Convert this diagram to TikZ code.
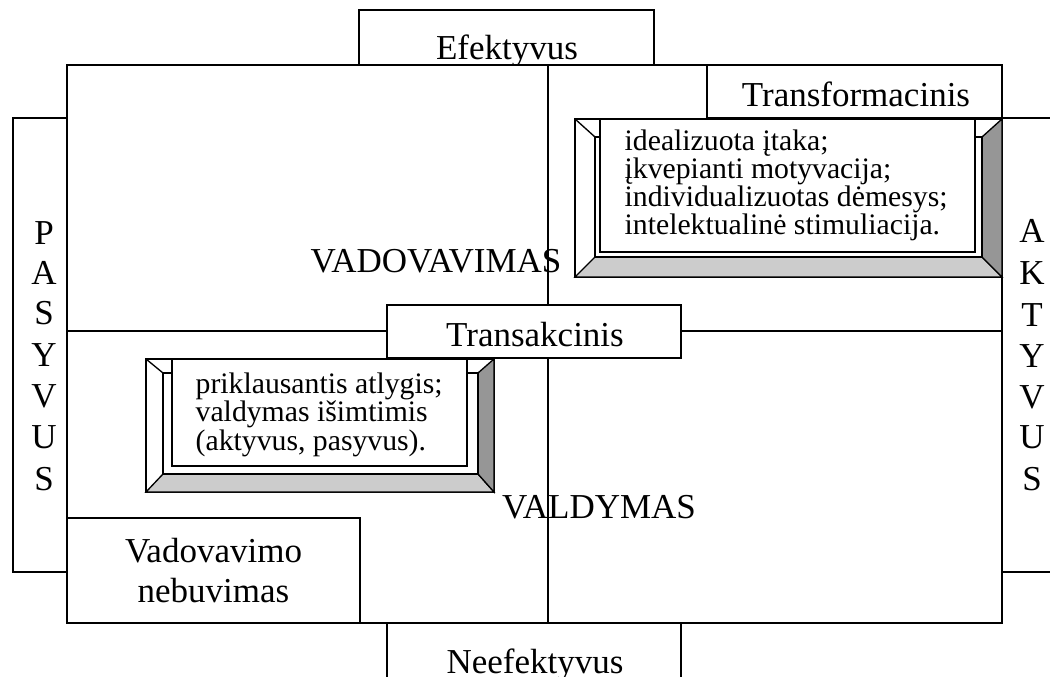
\documentclass[tikz,border=0pt]{standalone}
\usepackage{fontspec}
\setmainfont{Liberation Serif}
\tikzset{every picture/.style={line width=1pt}}
\tikzset{
  lbl/.style={inner sep=0pt, font=\fontsize{26.25}{30}\selectfont},
  boxtxt/.style={inner sep=0pt, anchor=north west, align=left, font=\fontsize{22.3}{19.5}\selectfont},
  whitebox/.style={draw, fill=white},
}
\definecolor{faceLight}{RGB}{204,204,204}
\definecolor{faceDark}{RGB}{150,150,150}
% bevelled box: outer x1,y1,x2,y2 / inner ix1,iy1,ix2,iy2
\newcommand{\bevelbox}[8]{%
  \draw [whitebox] (#1,#2) rectangle (#3,#4);
  \draw [fill=faceLight] (#1,#4) -- (#5,#8) -- (#7,#8) -- (#3,#4) -- cycle;
  \draw [fill=faceDark] (#3,#2) -- (#7,#6) -- (#7,#8) -- (#3,#4) -- cycle;
  \draw (#1,#2) -- (#5,#6);
  \draw (#5,#6) rectangle (#7,#8);
}

\begin{document}
\begin{tikzpicture}[x=0.75pt,y=0.75pt,yscale=-1,xscale=1]
	\useasboundingbox (0,0) rectangle (1050,677);
	\clip (0,0) rectangle (1050,677);
	%Efektyvus
	\draw [whitebox] (359,10) rectangle (654,65);
	\node (efT) [lbl, anchor=base] at (507,60) {Efektyvus};
	%Neefektyvus
	\draw [whitebox] (387,623) rectangle (681,700);
	\node (neefT) [lbl, anchor=base] at (535,673) {Neefektyvus};
	%Pasyvus
	\draw [whitebox] (13,118) rectangle (67,572);
	\foreach \l/\y in {P/245,A/285,S/325,Y/367,V/407,U/448,S/490}
		\node (pas\y) [lbl, anchor=base] at (44,\y) {\l};
	%Aktyvus
	\draw [whitebox] (1002,118) rectangle (1070,572);
	\foreach \l/\y in {A/243,K/285,T/327,Y/368,V/408,U/448,S/490}
		\node (akt\y) [lbl, anchor=base] at (1032,\y) {\l};
	%Main square
	\draw [whitebox] (67,65) rectangle (1002,623);
	\node (vadT) [lbl, anchor=base] at (436,273) {VADOVAVIMAS};
	\node (valT) [lbl, anchor=base] at (599,518) {VALDYMAS};
	%Straight Lines
	\coordinate (midL) at (67,331);
	\coordinate (midR) at (1002,331);
	\coordinate (midT) at (548,65);
	\coordinate (midB) at (548,623);
	\draw (midL) -- (midR);
	\draw (midT) -- (midB);
	%Transformacinis
	\draw [whitebox] (707,65) rectangle (1002,118);
	\node (trfT) [lbl, anchor=base] at (856,107) {Transformacinis};
	\bevelbox{575}{119}{1002}{277}{595}{137}{982}{257}
	\draw [whitebox] (600,119) rectangle (975,252);
	\node (trfList) [boxtxt] at (624,129) {idealizuota įtaka;\\ įkvepianti motyvacija;\\ individualizuotas dėmesys;\\ intelektualinė stimuliacija.};
	%Transakcinis
	\draw [whitebox] (387,305) rectangle (681,358);
	\node (trsT) [lbl, anchor=base] at (535,347) {Transakcinis};
	\bevelbox{146}{359}{494}{492}{163}{373}{478}{474}
	\draw [whitebox] (172,359) rectangle (467,466);
	\node (trsList) [boxtxt] at (195,372) {priklausantis atlygis;\\ valdymas išimtimis\\ (aktyvus, pasyvus).};
	%Vadovavimo nebuvimas
	\draw [whitebox] (67,518) rectangle (360,623);
	\node (nebT) [lbl, align=center, font=\fontsize{26.25}{30}\selectfont] at (213.5,571) {Vadovavimo\\ nebuvimas};
\end{tikzpicture}
\end{document}
